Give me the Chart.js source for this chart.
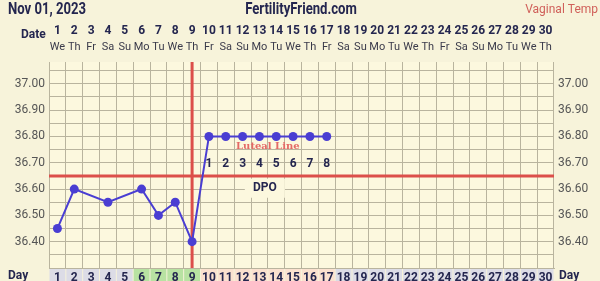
<!DOCTYPE html>
<html>
<head>
<meta charset="utf-8">
<script src="https://cdn.jsdelivr.net/npm/chart.js@4"></script>
<style>
  html, body { margin: 0; padding: 0; background: #f7f3da; }
  #wrap { width: 600px; height: 281px; }
</style>
</head>
<body>
<div id="wrap"><canvas id="chart"></canvas></div>
<script>
// Dados do gráfico
const days = ['1','2','3','4','5','6','7','8','9','10','11','12','13','14','15','16','17','18','19','20','21','22','23','24','25','26','27','28','29','30'];
const weekdays = ['We','Th','Fr','Sa','Su','Mo','Tu','We','Th','Fr','Sa','Su','Mo','Tu','We','Th','Fr','Sa','Su','Mo','Tu','We','Th','Fr','Sa','Su','Mo','Tu','We','Th'];
const temps = [36.45, 36.60, null, 36.55, null, 36.60, 36.50, 36.55, 36.40, 36.80, 36.80, 36.80, 36.80, 36.80, 36.80, 36.80, 36.80,
               null, null, null, null, null, null, null, null, null, null, null, null, null];
const phases = ['n','n','n','n','n','f','f','f','f','l','l','l','l','l','l','l','l',
                'n','n','n','n','n','n','n','n','n','n','n','n','n'];
const yTickLabels = [36.40, 36.50, 36.60, 36.70, 36.80, 36.90, 37.00];
const coverline = 36.65;
const ovulationDay = 9;
const dpoLabels = ['1','2','3','4','5','6','7','8'];

const navy = '#24264f';
const red = '#dc4f4a';
const blue = '#4a3ed2';
const gridColor = '#b9b49e';
const outerBg = '#f7f3da';
const plotBg = '#fcf8de';
const cellColors = { n: '#dcdce6', f: '#b8e2a2', l: '#fbe1cf' };
const FONT = 'Roboto, "Liberation Sans", sans-serif';

// Texto comprimido na horizontal (fonte do cabeçalho é estreita)
function narrowText(ctx, text, x, y, sx) {
    ctx.save();
    ctx.translate(x, y);
    ctx.scale(sx, 1);
    ctx.fillText(text, 0, 0);
    ctx.restore();
}

// Fundo, área do gráfico e células do dia
const bgPlugin = {
    id: 'bg',
    beforeDraw(chart) {
        const { ctx, chartArea: a, scales: { x } } = chart;
        ctx.save();
        ctx.fillStyle = outerBg;
        ctx.fillRect(0, 0, chart.width, chart.height);
        ctx.fillStyle = plotBg;
        ctx.fillRect(a.left, a.top, a.right - a.left, a.bottom - a.top);
        const w = x.getPixelForValue(1) - x.getPixelForValue(0);
        days.forEach((d, i) => {
            const cx = x.getPixelForValue(i);
            ctx.fillStyle = cellColors[phases[i]];
            ctx.fillRect(cx - w / 2 + 0.5, a.bottom + 1, w - 1, 20);
        });
        ctx.restore();
    }
};

// Linhas vermelhas e textos
const overlayPlugin = {
    id: 'overlay',
    beforeDatasetsDraw(chart) {
        const { ctx, chartArea: a, scales: { x, y } } = chart;
        ctx.save();
        // fundo do rótulo DPO
        const dx = (x.getPixelForValue(12) + x.getPixelForValue(13)) / 2 - 3;
        const dy = y.getPixelForValue(36.605);
        ctx.fillStyle = plotBg;
        ctx.fillRect(dx - 20, dy - 9, 40, 19);

        ctx.strokeStyle = red;
        ctx.lineWidth = 3;
        const cy = y.getPixelForValue(coverline);
        ctx.beginPath();
        ctx.moveTo(a.left, cy);
        ctx.lineTo(a.right, cy);
        ctx.stroke();
        const ox = x.getPixelForValue(ovulationDay - 1);
        ctx.beginPath();
        ctx.moveTo(ox, a.top);
        ctx.lineTo(ox, a.bottom);
        ctx.stroke();
        ctx.restore();
    },
    afterDatasetsDraw(chart) {
        const { ctx, scales: { x, y } } = chart;
        ctx.save();
        ctx.textAlign = 'center';
        ctx.textBaseline = 'middle';
        ctx.fillStyle = navy;
        ctx.font = 'bold 12px ' + FONT;
        dpoLabels.forEach((t, i) => {
            ctx.fillText(t, x.getPixelForValue(ovulationDay + i), y.getPixelForValue(36.694));
        });
        const dx = (x.getPixelForValue(12) + x.getPixelForValue(13)) / 2 - 3;
        ctx.fillText('DPO', dx, y.getPixelForValue(36.605));

        ctx.font = 'bold 10px "DejaVu Serif", serif';
        ctx.fillStyle = '#e46a66';
        ctx.fillText('Luteal Line', (x.getPixelForValue(12) + x.getPixelForValue(13)) / 2, y.getPixelForValue(36.762));
        ctx.restore();
    },
    afterDraw(chart) {
        const { ctx, chartArea: a, scales: { x } } = chart;
        ctx.save();
        ctx.textBaseline = 'middle';
        ctx.fillStyle = navy;
        ctx.font = 'bold 16px ' + FONT;
        ctx.textAlign = 'left';
        narrowText(ctx, 'Nov 01, 2023', 8, 10, 0.82);
        ctx.textAlign = 'center';
        narrowText(ctx, 'FertilityFriend.com', 301, 10, 0.82);
        ctx.font = '12px ' + FONT;
        ctx.fillStyle = '#d0605a';
        ctx.textAlign = 'right';
        ctx.fillText('Vaginal Temp', 598, 10);

        ctx.fillStyle = navy;
        ctx.font = 'bold 12px ' + FONT;
        ctx.textAlign = 'left';
        ctx.fillText('Date', 21, 35);
        ctx.fillText('Day', 8, a.bottom + 8);
        ctx.fillText('Day', 559, a.bottom + 8);
        ctx.textAlign = 'center';
        days.forEach((d, i) => ctx.fillText(d, x.getPixelForValue(i), 31));
        ctx.font = '11px ' + FONT;
        ctx.fillStyle = '#3a3a4a';
        weekdays.forEach((d, i) => ctx.fillText(d, x.getPixelForValue(i), 47));
        ctx.restore();
    }
};

const ctx = document.getElementById('chart').getContext('2d');

const yAxis = (position, width) => ({
    type: 'linear',
    position: position,
    min: 36.30,
    max: 37.083,
    grid: {
        display: position === 'left',
        color: gridColor,
        lineWidth: 1,
        drawTicks: false
    },
    border: { display: false },
    ticks: {
        stepSize: 0.05,
        autoSkip: false,
        includeBounds: false,
        padding: 4,
        color: '#555555',
        font: { family: FONT, size: 12 },
        callback: v => yTickLabels.some(t => Math.abs(t - v) < 0.001) ? v.toFixed(2) : ''
    },
    afterFit: s => { s.width = width; }
});

new Chart(ctx, {
    type: 'line',
    data: {
        labels: days,
        datasets: [{
            data: temps,
            borderColor: blue,
            backgroundColor: blue,
            borderWidth: 2,
            pointRadius: 4.5,
            pointHoverRadius: 4.5,
            pointBackgroundColor: blue,
            pointBorderWidth: 0,
            spanGaps: true,
            tension: 0,
            segment: {
                borderDash: c => (c.p1DataIndex - c.p0DataIndex > 1 ? [4, 3] : undefined),
                borderWidth: c => (c.p1DataIndex - c.p0DataIndex > 1 ? 1 : 2),
                borderColor: c => (c.p1DataIndex - c.p0DataIndex > 1 ? '#45456a' : blue)
            }
        }]
    },
    options: {
        responsive: true,
        maintainAspectRatio: false,
        animation: false,
        layout: { padding: { top: 62, left: 0, right: 0, bottom: 0 } },
        plugins: {
            legend: { display: false },
            tooltip: { enabled: false }
        },
        scales: {
            x: {
                type: 'category',
                position: 'bottom',
                offset: true,
                grid: { offset: true, color: gridColor, lineWidth: 1, drawTicks: false },
                border: { display: true, color: gridColor },
                ticks: {
                    color: navy,
                    padding: 3,
                    autoSkip: false,
                    maxRotation: 0,
                    font: { family: FONT, size: 12, weight: 'bold' }
                },
                afterFit: s => { s.height = 13; }
            },
            y: yAxis('left', 49),
            y2: yAxis('right', 46)
        }
    },
    plugins: [bgPlugin, overlayPlugin]
});
</script>
</body>
</html>
